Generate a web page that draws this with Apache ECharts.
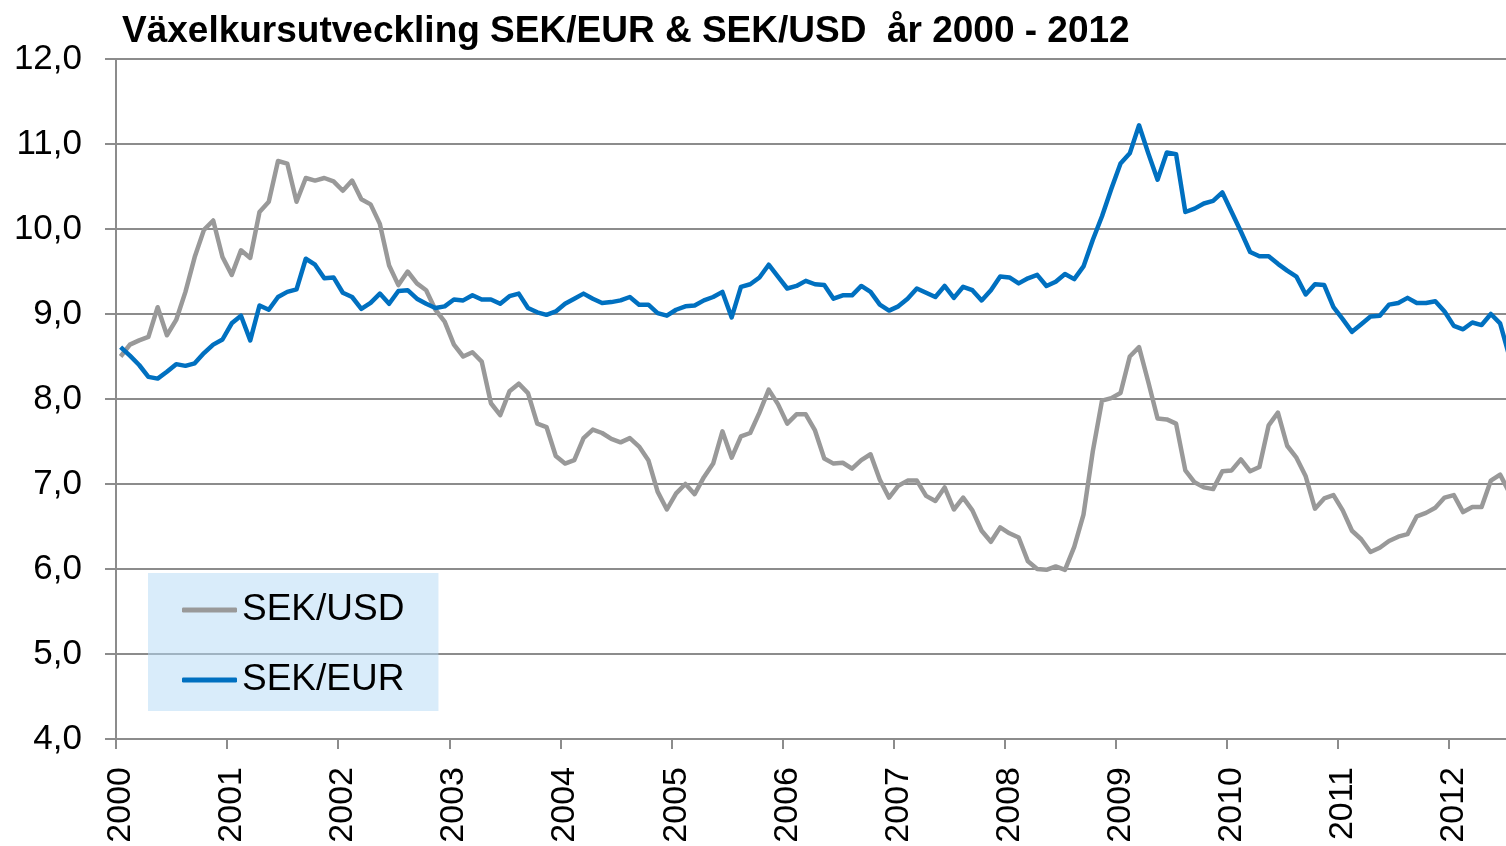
<!DOCTYPE html>
<html>
<head>
<meta charset="utf-8">
<title>Växelkursutveckling</title>
<script src="https://cdn.jsdelivr.net/npm/echarts@6/dist/echarts.min.js"></script>
<style>
    html, body {margin: 0; padding: 0; background: #fff;}
    #chart {width: 1506px; height: 846px;}
</style>
</head>
<body>
<div id="chart"></div>
<script>
var chartTitle = 'Växelkursutveckling SEK/EUR & SEK/USD  år 2000 - 2012';
var years = ['2000', '2001', '2002', '2003', '2004', '2005', '2006',
    '2007', '2008', '2009', '2010', '2011', '2012'];
var monthCount = 151;
var seriesNames = ['SEK/USD', 'SEK/EUR'];

// SEK/USD, monthly, jan 2000 - jul 2012
var sekUsd = [
    8.50, 8.64, 8.69, 8.73, 9.08, 8.75, 8.93, 9.26, 9.67, 9.99, 10.10, 9.67,
    9.46, 9.75, 9.66, 10.20, 10.32, 10.80, 10.77, 10.32, 10.60, 10.57, 10.60, 10.56,
    10.45, 10.57, 10.35, 10.29, 10.06, 9.57, 9.34, 9.50, 9.36, 9.28, 9.05, 8.91,
    8.64, 8.50, 8.55, 8.44, 7.95, 7.81, 8.09, 8.18, 8.07, 7.71, 7.67, 7.33,
    7.24, 7.28, 7.54, 7.64, 7.60, 7.53, 7.49, 7.54, 7.44, 7.28, 6.91, 6.70,
    6.89, 7.00, 6.88, 7.08, 7.24, 7.62, 7.31, 7.56, 7.60, 7.84, 8.11, 7.94,
    7.71, 7.82, 7.82, 7.63, 7.30, 7.24, 7.25, 7.18, 7.28, 7.35, 7.05, 6.84,
    6.98, 7.04, 7.04, 6.86, 6.80, 6.96, 6.70, 6.84, 6.69, 6.45, 6.32, 6.49,
    6.42, 6.37, 6.09, 6.00, 5.99, 6.03, 5.99, 6.26, 6.64, 7.38, 7.98, 8.01,
    8.07, 8.50, 8.61, 8.20, 7.77, 7.76, 7.71, 7.16, 7.02, 6.96, 6.94, 7.15,
    7.16, 7.29, 7.15, 7.20, 7.69, 7.84, 7.45, 7.31, 7.09, 6.71, 6.83, 6.87,
    6.69, 6.45, 6.35, 6.20, 6.25, 6.33, 6.38, 6.41, 6.62, 6.66, 6.72, 6.84,
    6.87, 6.67, 6.73, 6.73, 7.04, 7.11, 6.90
];

// SEK/EUR, monthly, jan 2000 - jul 2012
var sekEur = [
    8.61, 8.51, 8.40, 8.26, 8.24, 8.32, 8.41, 8.39, 8.42, 8.54, 8.64, 8.70,
    8.89, 8.98, 8.69, 9.10, 9.05, 9.20, 9.26, 9.29, 9.65, 9.58, 9.42, 9.43,
    9.25, 9.20, 9.06, 9.13, 9.24, 9.12, 9.27, 9.28, 9.18, 9.12, 9.07, 9.09,
    9.17, 9.16, 9.22, 9.17, 9.17, 9.12, 9.21, 9.24, 9.07, 9.02, 8.99, 9.03,
    9.12, 9.18, 9.24, 9.18, 9.13, 9.14, 9.16, 9.20, 9.11, 9.11, 9.01, 8.98,
    9.05, 9.09, 9.10, 9.16, 9.20, 9.26, 8.96, 9.32, 9.35, 9.43, 9.58, 9.44,
    9.30, 9.33, 9.39, 9.35, 9.34, 9.18, 9.22, 9.22, 9.33, 9.26, 9.11, 9.04,
    9.09, 9.18, 9.30, 9.25, 9.20, 9.33, 9.19, 9.32, 9.28, 9.16, 9.28, 9.44,
    9.43, 9.36, 9.42, 9.46, 9.33, 9.38, 9.47, 9.41, 9.56, 9.87, 10.15, 10.47,
    10.77, 10.89, 11.22, 10.89, 10.58, 10.90, 10.88, 10.20, 10.24, 10.30, 10.33, 10.43,
    10.20, 9.97, 9.73, 9.68, 9.68, 9.59, 9.51, 9.44, 9.23, 9.35, 9.34, 9.08,
    8.94, 8.79, 8.88, 8.97, 8.98, 9.11, 9.13, 9.19, 9.13, 9.13, 9.15, 9.03,
    8.86, 8.82, 8.90, 8.87, 9.00, 8.89, 8.50
];

var yTicks = [4, 5, 6, 7, 8, 9, 10, 11, 12];

initChart();

function buildMonths() {
    var months = [];
    for (var i = 0; i < monthCount; i++) {
        var y = years[Math.floor(i / 12)];
        var m = (i % 12) + 1;
        months.push(y + '-' + (m < 10 ? '0' + m : m));
    }
    return months;
}

function initChart() {
    var chart = echarts.init(document.getElementById('chart'));
    var font = '"Liberation Sans", Arial, sans-serif';
    var gridColor = '#8c8c8c';
    var option = {
        animation: false,
        backgroundColor: '#fff',
        title: {
            text: chartTitle,
            left: 122,
            top: 13,
            padding: 0,
            textStyle: {
                fontFamily: font,
                fontSize: 37,
                fontWeight: 'bold',
                color: '#000'
            }
        },
        legend: {
            orient: 'vertical',
            left: 148,
            top: 573,
            padding: [17, 34, 11, 34],
            itemGap: 30,
            itemWidth: 55,
            itemHeight: 5,
            icon: 'roundRect',
            backgroundColor: 'rgba(180,218,245,0.5)',
            data: seriesNames,
            textStyle: {
                fontFamily: font,
                fontSize: 37,
                lineHeight: 40,
                color: '#000'
            }
        },
        // plot runs a little past the right edge, like the cropped original
        grid: {
            left: 116,
            top: 59,
            width: 1398,
            bottom: 107,
            outerBoundsMode: 'none'
        },
        xAxis: {
            type: 'category',
            boundaryGap: true,
            data: buildMonths(),
            axisLine: {lineStyle: {color: gridColor, width: 2}},
            axisTick: {
                show: true,
                length: 10,
                interval: function (index) {
                    return index % 12 === 0;
                },
                lineStyle: {color: gridColor, width: 2}
            },
            axisLabel: {
                rotate: 90,
                margin: 28,
                interval: function (index) {
                    return index % 12 === 0;
                },
                formatter: function (value) {
                    return value.slice(0, 4);
                },
                fontFamily: font,
                fontSize: 34,
                color: '#000'
            },
            splitLine: {show: false}
        },
        yAxis: {
            type: 'value',
            min: yTicks[0],
            max: yTicks[yTicks.length - 1],
            interval: 1,
            axisLine: {show: true, lineStyle: {color: gridColor, width: 2}},
            axisTick: {show: true, length: 11, lineStyle: {color: gridColor, width: 2}},
            axisLabel: {
                margin: 34,
                fontFamily: font,
                fontSize: 35,
                color: '#000',
                formatter: function (v) {
                    return v.toFixed(1).replace('.', ',');
                }
            },
            splitLine: {lineStyle: {color: gridColor, width: 2}}
        },
        series: [
            {
                name: seriesNames[0],
                type: 'line',
                data: sekUsd,
                symbol: 'none',
                color: '#999999',
                lineStyle: {width: 4.5, color: '#999999', join: 'round'}
            },
            {
                name: seriesNames[1],
                type: 'line',
                data: sekEur,
                symbol: 'none',
                color: '#0070c0',
                lineStyle: {width: 4.5, color: '#0070c0', join: 'round'}
            }
        ]
    };
    chart.setOption(option);
}
</script>
</body>
</html>
